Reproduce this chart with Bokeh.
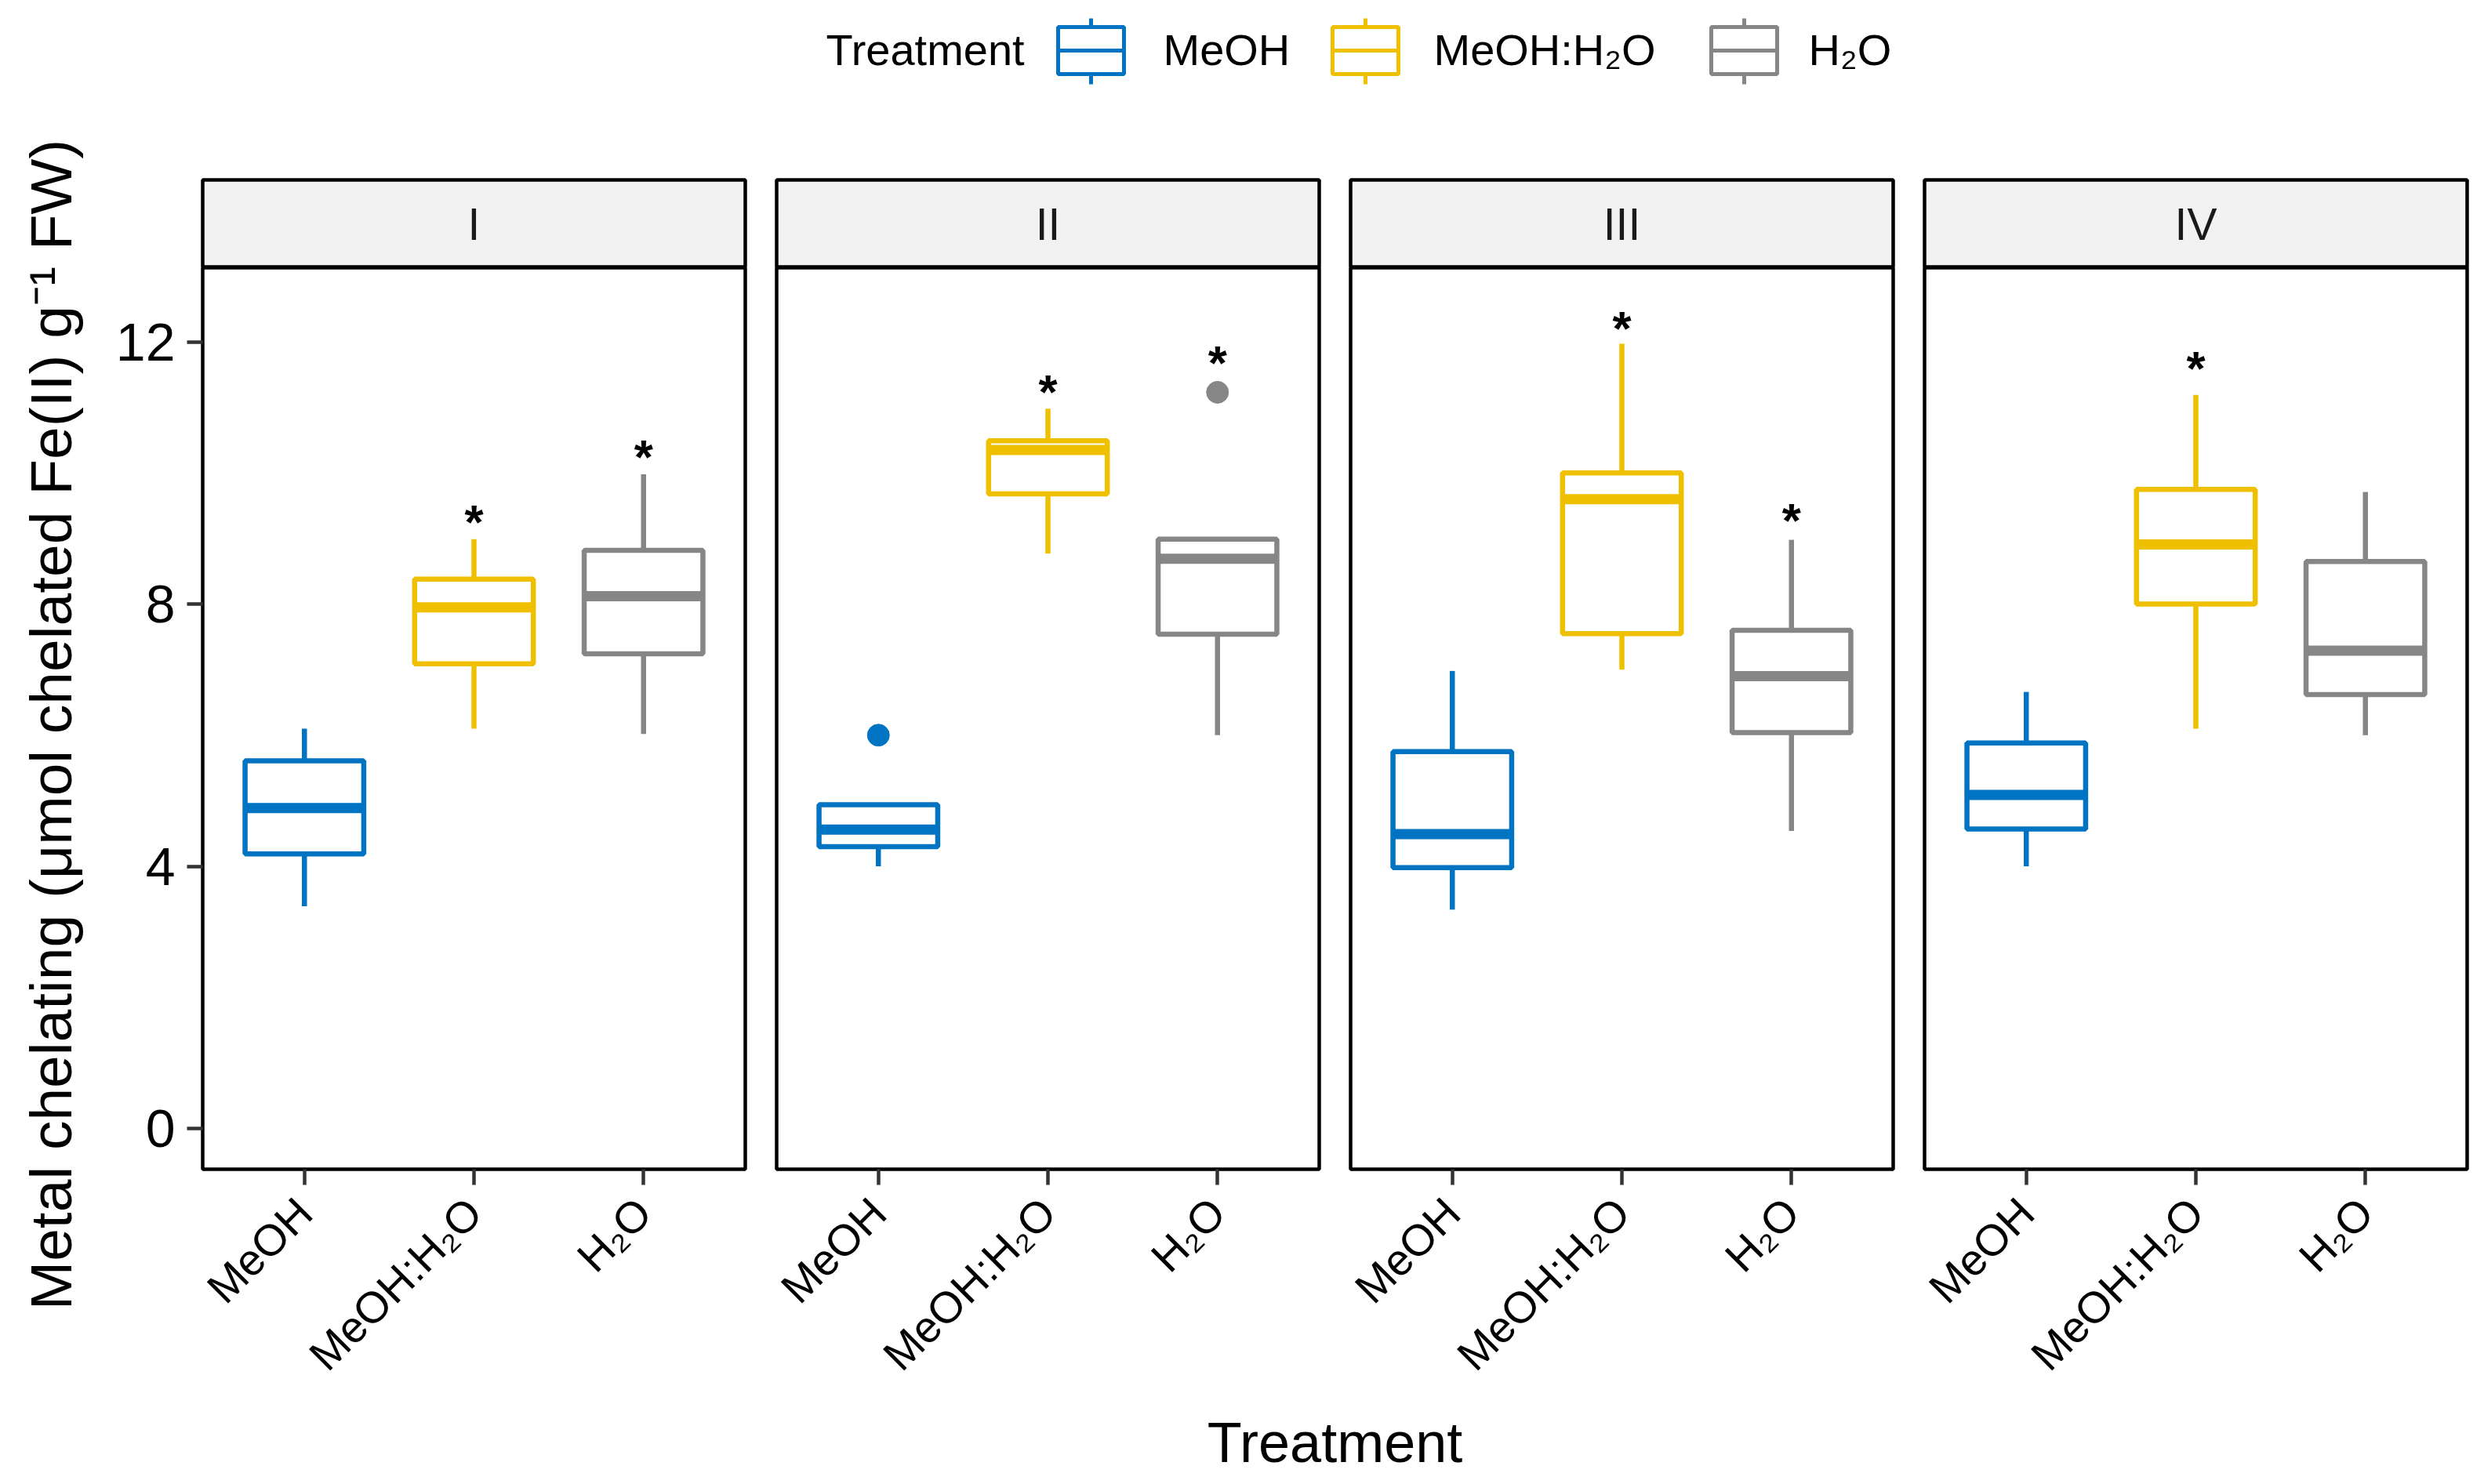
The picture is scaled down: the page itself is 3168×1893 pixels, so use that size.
import numpy as np
from bokeh.plotting import figure
from bokeh.layouts import column, row
from bokeh.models import Range1d, FixedTicker, ColumnDataSource
from bokeh.core.properties import value
from bokeh.embed import file_html
from bokeh.resources import INLINE

# ---------------- data ----------------
categories = ["MeOH", "MeOH:H\u2082O", "H\u2082O"]
stages = ["I", "II", "III", "IV"]
colors = ["#0073C2", "#EFC000", "#868686"]

# rows = stages I..IV, columns = categories
lower_whisker = [[3.39, 6.10, 6.02], [4.00, 8.77, 6.00], [3.34, 7.00, 4.54], [4.00, 6.10, 6.00]]
q1 = [[4.19, 7.09, 7.24], [4.30, 9.68, 7.54], [3.98, 7.55, 6.04], [4.57, 8.00, 6.62]]
median = [[4.89, 7.95, 8.12], [4.56, 10.35, 8.69], [4.49, 9.60, 6.90], [5.09, 8.91, 7.29]]
q3 = [[5.61, 8.38, 8.82], [4.94, 10.49, 8.99], [5.75, 10.00, 7.60], [5.88, 9.75, 8.65]]
upper_whisker = [[6.10, 8.99, 9.98], [4.96, 10.98, 8.99], [6.98, 11.97, 8.98], [6.66, 11.19, 9.71]]

outlier_stage = ["II", "II"]
outlier_cat = ["MeOH", "H\u2082O"]
outlier_value = [6.00, 11.23]

# position of the significance asterisks (None = no asterisk)
asterisk_y = [[None, 9.38, 10.37], [None, 11.36, 11.80], [None, 12.33, 9.40], [None, 11.72, None]]

y_ticks = [0, 4, 8, 12]
y_label = "Metal chelating (\u03bcmol chelated Fe(II) g\u207b\u00b9 FW)"
x_label = "Treatment"
legend_title = "Treatment"

# ---------------- style / layout (page pixels) ----------------
FONT = "Liberation Sans"
TOTAL_W = 3160
YT_W = 120                 # left strip holding the y title
FRAME_W = 692
FRAME_H = 1154
PANEL_X0 = 258             # left edge of first panel frame
GAP = 20                   # half gap between panels
LEFT0 = PANEL_X0 - YT_W
LAST_RIGHT = TOTAL_W - YT_W - (LEFT0 + 4 * FRAME_W + 6 * GAP)
BOTTOM = 290
STRIP_TOP_PAD = 2
STRIP_H = 112
LEGEND_H = 229 - STRIP_TOP_PAD
XTITLE_H = 104
TOTAL_H = LEGEND_H + STRIP_TOP_PAD + STRIP_H + FRAME_H + BOTTOM + XTITLE_H
LW = 6.5
Y_RANGE = (-0.62, 13.13)

xs = np.arange(1, len(categories) + 1)
BOX_W = 0.70


def style_common(p):
    p.xgrid.visible = False
    p.ygrid.visible = False
    p.background_fill_color = "white"
    p.border_fill_color = "white"


def make_panel(i):
    left = LEFT0 if i == 0 else GAP
    right = LAST_RIGHT if i == 3 else GAP
    p = figure(width=left + FRAME_W + right, height=FRAME_H + BOTTOM,
               x_range=Range1d(0.4, 3.6), y_range=Range1d(*Y_RANGE),
               output_backend="svg", toolbar_location=None,
               min_border_left=left, min_border_right=right,
               min_border_top=0, min_border_bottom=BOTTOM,
               y_axis_location="left" if i == 0 else None)
    style_common(p)
    p.outline_line_color = "black"
    p.outline_line_width = 4.5

    src = ColumnDataSource(dict(
        x=xs, left=xs - BOX_W / 2, right=xs + BOX_W / 2,
        lo=lower_whisker[i], q1=q1[i], med=median[i], q3=q3[i], hi=upper_whisker[i],
        color=colors))
    p.segment(x0="x", y0="q3", x1="x", y1="hi", line_color="color", line_width=LW, source=src)
    p.segment(x0="x", y0="lo", x1="x", y1="q1", line_color="color", line_width=LW, source=src)
    p.quad(left="left", right="right", bottom="q1", top="q3", fill_color="white",
           line_color="color", line_width=LW, source=src)
    p.segment(x0="left", y0="med", x1="right", y1="med", line_color="color",
              line_width=2 * LW, source=src)

    ox, oy, oc = [], [], []
    for s, c, v in zip(outlier_stage, outlier_cat, outlier_value):
        if s == stages[i]:
            k = categories.index(c)
            ox.append(xs[k]); oy.append(v); oc.append(colors[k])
    if ox:
        p.scatter(x=ox, y=oy, size=28, color=oc)

    ax_, ay_ = [], []
    for k, v in enumerate(asterisk_y[i]):
        if v is not None:
            ax_.append(xs[k]); ay_.append(v)
    if ax_:
        fs = 62
        p.text(x=ax_, y=ay_, text=["*"] * len(ax_), text_font=value(FONT),
               text_font_size=f"{fs}px", text_font_style="bold", text_color="black",
               text_align="center", text_baseline="middle", y_offset=10)

    xa = p.xaxis[0]
    xa.ticker = FixedTicker(ticks=[float(x) for x in xs])
    xa.major_label_overrides = {float(x): c for x, c in zip(xs, categories)}
    xa.major_label_orientation = np.pi / 4
    xa.major_label_text_font = FONT
    xa.major_label_text_font_size = "56px"
    xa.major_label_text_color = "black"
    xa.major_label_standoff = 26
    xa.major_tick_out = 20
    xa.major_tick_in = 0
    xa.minor_tick_out = 0
    xa.minor_tick_in = 0
    xa.major_tick_line_width = 4.5
    xa.major_tick_line_color = "#333333"
    xa.axis_line_color = None

    if i == 0:
        ya = p.yaxis[0]
        ya.ticker = FixedTicker(ticks=y_ticks)
        ya.major_label_text_font = FONT
        ya.major_label_text_font_size = "68px"
        ya.major_label_text_color = "black"
        ya.major_label_standoff = 15
        ya.major_tick_out = 20
        ya.major_tick_in = 0
        ya.minor_tick_out = 0
        ya.minor_tick_in = 0
        ya.major_tick_line_width = 4.5
        ya.major_tick_line_color = "#333333"
        ya.axis_line_color = None
    return p


def make_strip(i):
    left = LEFT0 if i == 0 else GAP
    right = LAST_RIGHT if i == 3 else GAP
    s = figure(width=left + FRAME_W + right, height=STRIP_H + STRIP_TOP_PAD,
               x_range=Range1d(0, 1), y_range=Range1d(0, 1),
               output_backend="svg", toolbar_location=None,
               min_border_left=left, min_border_right=right,
               min_border_top=STRIP_TOP_PAD, min_border_bottom=0,
               x_axis_location=None, y_axis_location=None)
    style_common(s)
    s.background_fill_color = "#F2F2F2"
    s.outline_line_color = "black"
    s.outline_line_width = 4.5
    s.text(x=[0.5], y=[0.5], text=[stages[i]], text_font=value(FONT),
           text_font_size="57px", text_color="#1A1A1A",
           text_align="center", text_baseline="middle")
    return s


RIGHT_W = TOTAL_W - YT_W

# ---------------- legend (top) ----------------
leg = figure(width=RIGHT_W, height=LEGEND_H, x_range=Range1d(YT_W, TOTAL_W),
             y_range=Range1d(LEGEND_H, 0), output_backend="svg", toolbar_location=None,
             min_border=0, x_axis_location=None, y_axis_location=None)
style_common(leg)
leg.outline_line_color = None
LEG_FS = "56px"
leg_mid = 63
leg.text(x=[1053], y=[leg_mid], text=[legend_title], text_font=value(FONT),
         text_font_size=LEG_FS, text_color="black", text_align="left", text_baseline="middle")
key_x0 = [1349, 1699, 2182]
label_x = [1483, 1828, 2306]
key_w = 84
box_top, box_bot = 34, 94
wh_top, wh_bot = 23, 107
for k, c in enumerate(categories):
    x0 = key_x0[k]
    xc = x0 + key_w / 2
    leg.segment(x0=[xc, xc], y0=[wh_top, box_bot], x1=[xc, xc], y1=[box_top, wh_bot],
                line_color=colors[k], line_width=5)
    leg.quad(left=[x0], right=[x0 + key_w], top=[box_top], bottom=[box_bot],
             fill_color="white", line_color=colors[k], line_width=5)
    leg.segment(x0=[x0], y0=[(box_top + box_bot) / 2], x1=[x0 + key_w],
                y1=[(box_top + box_bot) / 2], line_color=colors[k], line_width=5)
    leg.text(x=[label_x[k]], y=[leg_mid], text=[c], text_font=value(FONT),
             text_font_size=LEG_FS, text_color="black", text_align="left",
             text_baseline="middle")

# ---------------- x title (bottom) ----------------
xt = figure(width=RIGHT_W, height=XTITLE_H, x_range=Range1d(YT_W, TOTAL_W),
            y_range=Range1d(XTITLE_H, 0), output_backend="svg", toolbar_location=None,
            min_border=0, x_axis_location=None, y_axis_location=None)
style_common(xt)
xt.outline_line_color = None
panels_center = PANEL_X0 + (4 * FRAME_W + 6 * GAP) / 2
xt.text(x=[panels_center], y=[54], text=[x_label], text_font=value(FONT),
        text_font_size="72px", text_color="black", text_align="center",
        text_baseline="middle")

# ---------------- y title (left, full height) ----------------
yt = figure(width=YT_W, height=TOTAL_H, x_range=Range1d(0, YT_W),
            y_range=Range1d(TOTAL_H, 0), output_backend="svg", toolbar_location=None,
            min_border=0, x_axis_location=None, y_axis_location=None)
style_common(yt)
yt.outline_line_color = None
panel_mid_y = LEGEND_H + STRIP_TOP_PAD + STRIP_H + FRAME_H / 2
yt.text(x=[64], y=[panel_mid_y + 6], text=[y_label], angle=np.pi / 2,
        text_font=value(FONT), text_font_size="75px", text_color="black",
        text_align="center", text_baseline="middle")

cols = [column(make_strip(i), make_panel(i)) for i in range(4)]
page = row(yt, column(leg, row(*cols), xt))

open("out.html", "w").write(file_html(page, INLINE, title="Metal chelating"))
